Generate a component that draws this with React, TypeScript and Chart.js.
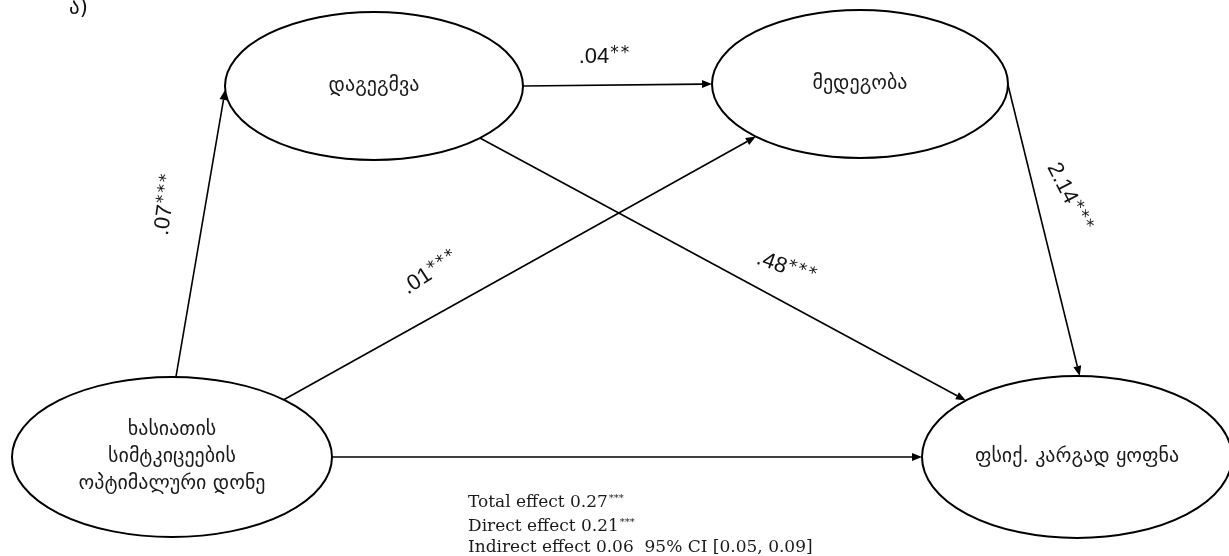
import React, { useEffect, useRef } from "react";
import { Chart, registerables } from "chart.js";

Chart.register(...registerables);

// ---------- data ----------
const panelLabel = "ა)";
const nodeNames: string[][] = [
  ["დაგეგმვა"],
  ["მედეგობა"],
  ["ხასიათის", "სიმტკიცეების", "ოპტიმალური დონე"],
  ["ფსიქ. კარგად ყოფნა"],
];
const edgeFrom = [2, 0, 0, 2, 1, 2];
const edgeTo = [0, 1, 3, 1, 3, 3];
const edgeCoefs = [".07", ".04", ".48", ".01", "2.14", ""];
const edgeStars = ["***", "**", "***", "***", "***", ""];
const effectNames = ["Total effect", "Direct effect", "Indirect effect"];
const effectValues = ["0.27", "0.21", "0.06"];
const effectStars = ["***", "***", ""];
const effectCI = ["", "", "  95% CI [0.05, 0.09]"];

// ---------- layout (diagram units) ----------
const nodeCX = [374, 860, 172, 1077];
const nodeCY = [86, 84, 457, 457];
const nodeRX = [149, 148, 160, 155];
const nodeRY = [74, 74, 80, 81];
const edgeStartAngle = [-88.6, 0, 44.7, -45.7, 0.8, 0];
const edgeEndAngle = [177, 180, -135.8, 134.7, -89, 180];
const coefX = [166, 604, 786, 430, 1069, 0];
const coefY = [205, 57, 268, 273, 197, 0];
const coefRot = [-82, 0, 20, -33, 63, 0];
const effectX = 468;
const effectY = [503, 527, 548];

const diagramPlugin = {
  id: "pathDiagram",
  afterDatasetsDraw(chart: any) {
    const ctx: CanvasRenderingContext2D = chart.ctx;
    const xs = chart.scales.x;
    const ys = chart.scales.y;
    const px = (v: number) => xs.getPixelForValue(v);
    const py = (v: number) => ys.getPixelForValue(v);
    const onEllipse = (i: number, deg: number) => {
      const t = (deg * Math.PI) / 180;
      return [
        px(nodeCX[i] + nodeRX[i] * Math.cos(t)),
        py(nodeCY[i] + nodeRY[i] * Math.sin(t)),
      ];
    };
    ctx.save();
    ctx.strokeStyle = "#000";
    ctx.fillStyle = "#111";

    // panel label
    ctx.font = "21px 'DejaVu Sans'";
    ctx.textAlign = "left";
    ctx.textBaseline = "alphabetic";
    ctx.fillText(panelLabel, px(69), py(14));

    // ellipses
    ctx.lineWidth = 2;
    nodeNames.forEach((_, i) => {
      const cx = px(nodeCX[i]);
      const cy = py(nodeCY[i]);
      const rx = Math.abs(px(nodeCX[i] + nodeRX[i]) - cx);
      const ry = Math.abs(py(nodeCY[i] + nodeRY[i]) - cy);
      ctx.beginPath();
      ctx.ellipse(cx, cy, rx, ry, 0, 0, Math.PI * 2);
      ctx.stroke();
    });

    // node labels
    ctx.font = "20px 'DejaVu Sans'";
    ctx.textAlign = "center";
    ctx.textBaseline = "middle";
    ctx.fillStyle = "#1a1a1a";
    nodeNames.forEach((lines, i) => {
      const lh = 27;
      const y0 = py(nodeCY[i]) - ((lines.length - 1) * lh) / 2;
      lines.forEach((s, k) => ctx.fillText(s, px(nodeCX[i]), y0 + k * lh));
    });

    // edges with arrowheads
    ctx.lineWidth = 1.6;
    ctx.fillStyle = "#000";
    edgeFrom.forEach((f, e) => {
      const [x1, y1] = onEllipse(f, edgeStartAngle[e]);
      const [x2, y2] = onEllipse(edgeTo[e], edgeEndAngle[e]);
      const a = Math.atan2(y2 - y1, x2 - x1);
      const L = 10;
      const W = 4;
      const bx = x2 - L * Math.cos(a);
      const by = y2 - L * Math.sin(a);
      ctx.beginPath();
      ctx.moveTo(x1, y1);
      ctx.lineTo(bx, by);
      ctx.stroke();
      ctx.beginPath();
      ctx.moveTo(x2, y2);
      ctx.lineTo(bx + W * Math.sin(a), by - W * Math.cos(a));
      ctx.lineTo(bx - W * Math.sin(a), by + W * Math.cos(a));
      ctx.closePath();
      ctx.fill();
    });

    // coefficient labels
    ctx.fillStyle = "#111";
    ctx.textBaseline = "middle";
    ctx.textAlign = "left";
    edgeCoefs.forEach((s, e) => {
      if (!s) return;
      const numFont = "22px 'Liberation Sans'";
      const starFont = "17px 'DejaVu Sans'";
      ctx.font = numFont;
      const wNum = ctx.measureText(s).width;
      ctx.font = starFont;
      const starGap = 2;
      const oneStar = ctx.measureText("*").width;
      const nStars = edgeStars[e].length;
      const wStars = nStars * oneStar + (nStars - 1) * starGap;
      const total = wNum + 1 + wStars;
      ctx.save();
      ctx.translate(px(coefX[e]), py(coefY[e]));
      ctx.rotate((coefRot[e] * Math.PI) / 180);
      let x = -total / 2;
      ctx.font = numFont;
      ctx.fillText(s, x, 0);
      x += wNum + 1;
      ctx.font = starFont;
      for (let k = 0; k < nStars; k++) {
        ctx.fillText("*", x, -3);
        x += oneStar + starGap;
      }
      ctx.restore();
    });

    // effects text
    ctx.textAlign = "left";
    ctx.textBaseline = "middle";
    ctx.fillStyle = "#1a1a1a";
    effectNames.forEach((n, i) => {
      let x = px(effectX);
      const y = py(effectY[i]);
      ctx.font = "17px 'DejaVu Serif'";
      const main = n + " " + effectValues[i];
      ctx.fillText(main, x, y);
      x += ctx.measureText(main).width;
      if (effectStars[i]) {
        ctx.font = "10px 'DejaVu Serif'";
        ctx.fillText(effectStars[i], x + 1, y - 5);
        x += ctx.measureText(effectStars[i]).width + 1;
      }
      if (effectCI[i]) {
        ctx.font = "17px 'DejaVu Serif'";
        ctx.fillText(effectCI[i], x, y);
      }
    });
    ctx.restore();
  },
};

export default function App() {
  const ref = useRef<HTMLCanvasElement | null>(null);
  useEffect(() => {
    if (!ref.current) return;
    const chart = new Chart(ref.current, {
      type: "scatter",
      data: {
        datasets: [
          {
            data: nodeCX.map((x, i) => ({ x, y: nodeCY[i] })),
            pointRadius: 0,
          },
        ],
      },
      options: {
        responsive: false,
        animation: false,
        layout: { padding: 0 },
        plugins: { legend: { display: false }, tooltip: { enabled: false } },
        scales: {
          x: { type: "linear", min: 0, max: 1229, display: false },
          y: { type: "linear", min: 0, max: 556, reverse: true, display: false },
        },
      },
      plugins: [diagramPlugin],
    });
    return () => chart.destroy();
  }, []);
  return (
    <div style={{ position: "fixed", left: 0, top: 0, width: 1229, height: 556, background: "#fff" }}>
      <canvas ref={ref} width={1229} height={556} />
    </div>
  );
}
